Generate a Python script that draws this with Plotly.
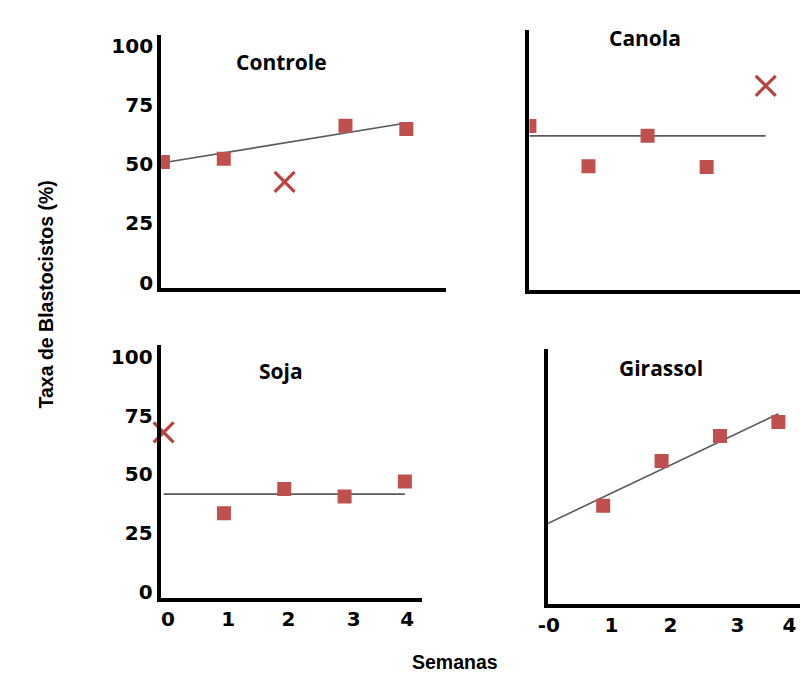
import plotly.graph_objects as go

W, H = 800, 693

# ---------------- data ----------------
panels = ["Controle", "Canola", "Soja", "Girassol"]

controle_sq_weeks = [0, 1, 3, 4]
controle_sq = [51.0, 52.4, 66.4, 65.0]
controle_x_weeks = [2]
controle_x = [42.6]
controle_trend = [50.7, 67.5]

canola_sq_weeks = [0, 1, 2, 3]
canola_sq = [67.1, 50.0, 62.9, 49.7]
canola_x_weeks = [4]
canola_x = [84.1]
canola_trend = [62.9, 62.9]

soja_sq_weeks = [1, 2, 3, 4]
soja_sq = [33.5, 43.8, 40.6, 47.0]
soja_x_weeks = [0]
soja_x = [67.9]
soja_trend = [41.6, 41.6]

girassol_sq_weeks = [1, 2, 3, 4]
girassol_sq = [39.3, 58.3, 68.9, 74.9]
girassol_x_weeks = [0]
girassol_x = [75.5]
girassol_trend = [31.1, 78.4]

trend_weeks = [0, 4]
week_labels = ["0", "1", "2", "3", "4"]
girassol_week_labels = ["-0", "1", "2", "3", "4"]
y_ticks = [0, 25, 50, 75, 100]

# ---------------- style ----------------
RED = "#C0504D"
XRED = "#B8433F"
GREY = "#5A5A5A"
TICKFONT = dict(family="DejaVu Sans", size=20, color="black", weight="bold")
TITLEFONT = dict(family="Open Sans", size=21, color="black", weight="bold")
LABFONT = dict(family="Liberation Sans", size=19.5, color="black", weight="bold")


def px_x(p):
    return p / W


def px_y(p):
    return (H - p) / H


fig = go.Figure()

series = [
    (controle_sq_weeks, controle_sq, controle_x_weeks, controle_x, controle_trend),
    (canola_sq_weeks, canola_sq, canola_x_weeks, canola_x, canola_trend),
    (soja_sq_weeks, soja_sq, soja_x_weeks, soja_x, soja_trend),
    (girassol_sq_weeks, girassol_sq, girassol_x_weeks, girassol_x, girassol_trend),
]

for i, (sw, sv, xw, xv, tr) in enumerate(series):
    suf = "" if i == 0 else str(i + 1)
    xa, ya = "x" + suf, "y" + suf
    fig.add_trace(go.Scatter(x=trend_weeks, y=tr, mode="lines",
                             line=dict(color=GREY, width=1.6),
                             xaxis=xa, yaxis=ya, hoverinfo="skip"))
    fig.add_trace(go.Scatter(x=sw, y=sv, mode="markers",
                             marker=dict(symbol="square", size=14, color=RED),
                             xaxis=xa, yaxis=ya))
    fig.add_trace(go.Scatter(x=xw, y=xv, mode="markers", cliponaxis=False,
                             marker=dict(symbol="x-thin", size=20,
                                         line=dict(color=XRED, width=3.2)),
                             xaxis=xa, yaxis=ya))

common_axis = dict(showline=True, linewidth=4, linecolor="black",
                   showgrid=False, zeroline=False, ticks="")

layout_axes = {
    "xaxis": dict(domain=[px_x(153), px_x(442)], range=[-0.03, 4.66],
                  anchor="y", showticklabels=False),
    "yaxis": dict(domain=[px_y(291), px_y(35)], range=[-2.5, 104.9],
                  anchor="x", tickvals=y_ticks, tickfont=TICKFONT),
    "xaxis2": dict(domain=[px_x(526), px_x(800)], range=[0, 4.58],
                   anchor="y2", showticklabels=False),
    "yaxis2": dict(domain=[px_y(293), px_y(30)], range=[-2.5, 107.8],
                   anchor="x2", showticklabels=False),
    "xaxis3": dict(domain=[px_x(152.5), px_x(417)], range=[-0.05, 4.28],
                   anchor="y3", tickvals=[0.07, 1.07, 2.07, 3.15, 4.04],
                   ticktext=week_labels, tickfont=TICKFONT),
    "yaxis3": dict(domain=[px_y(603.5), px_y(348)], range=[-2.74, 105.1],
                   anchor="x3", tickvals=y_ticks, tickfont=TICKFONT),
    "xaxis4": dict(domain=[px_x(544.5), px_x(800)], range=[0.05, 4.37],
                   anchor="y4", tickvals=[0.07, 1.14, 2.15, 3.3, 4.19],
                   ticktext=girassol_week_labels, tickfont=TICKFONT),
    "yaxis4": dict(domain=[px_y(609.7), px_y(351.7)], range=[-2.74, 106.1],
                   anchor="x4", showticklabels=False),
}
for k, v in layout_axes.items():
    d = dict(common_axis)
    d.update(v)
    layout_axes[k] = d

title_pos = [(275, 63), (643, 38), (274, 374), (659, 371)]
annotations = []
for name, (tx, ty) in zip(panels, title_pos):
    annotations.append(dict(text=name, x=px_x(tx), y=px_y(ty), xref="paper",
                            yref="paper", showarrow=False, font=TITLEFONT,
                            xanchor="center", yanchor="middle"))
annotations.append(dict(text="Taxa de Blastocistos (%)", x=px_x(36.5), y=px_y(297),
                        xref="paper", yref="paper", showarrow=False, textangle=-90,
                        font=LABFONT, xanchor="center", yanchor="middle"))
annotations.append(dict(text="Semanas", x=px_x(451), y=px_y(668),
                        xref="paper", yref="paper", showarrow=False,
                        font=LABFONT, xanchor="center", yanchor="middle"))

fig.update_layout(width=W, height=H, margin=dict(l=0, r=0, t=0, b=0),
                  paper_bgcolor="white", plot_bgcolor="white",
                  showlegend=False, annotations=annotations, **layout_axes)

fig.write_html("out.html",
               config={"displayModeBar": False},
               post_script="document.body.style.margin='0';"
                           "document.body.style.overflow='hidden';")
